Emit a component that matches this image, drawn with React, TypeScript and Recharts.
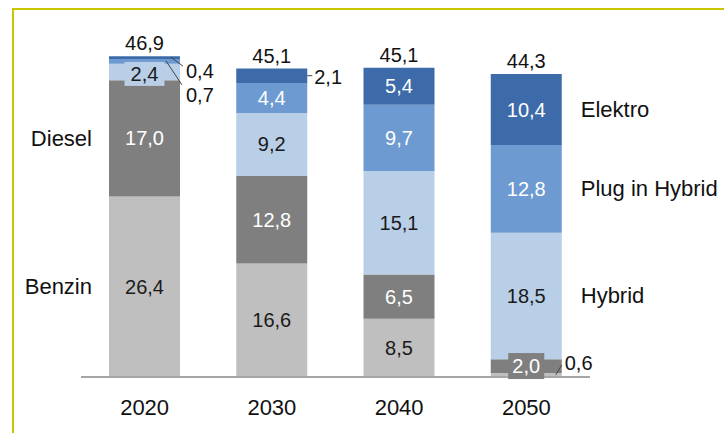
import React from "react";
import { BarChart, Bar, XAxis, YAxis, LabelList } from "recharts";

const years = ["2020", "2030", "2040", "2050"];
const benzin = [26.4, 16.6, 8.5, 0.6];
const diesel = [17.0, 12.8, 6.5, 2.0];
const hybrid = [2.4, 9.2, 15.1, 18.5];
const plugIn = [0.7, 4.4, 9.7, 12.8];
const elektro = [0.4, 2.1, 5.4, 10.4];
const totals = [46.9, 45.1, 45.1, 44.3];

const COLORS = {
  benzin: "#bfbfbf",
  diesel: "#7f7f7f",
  hybrid: "#b9cee7",
  plugIn: "#6c9ad1",
  elektro: "#3d6ba9",
};

const FONT = "'Liberation Sans', Arial, sans-serif";
const VAL = 20; // value label size
const NAME = 22; // series names and years
const fmt = (v: number) => v.toFixed(1).replace(".", ",");

const data = years.map((year, i) => ({
  year,
  benzin: benzin[i],
  diesel: diesel[i],
  hybrid: hybrid[i],
  plugIn: plugIn[i],
  elektro: elektro[i],
}));

type Opts = {
  color: string;
  fill: string;
  leftName?: string; // series name left of first bar
  rightName?: string; // series name right of last bar
  outside?: Record<number, "diag" | "diagLong" | "flat" | "up">;
  boxed?: Record<number, { w: number; h: number; dy: number }>;
};

function makeLabel(o: Opts) {
  return (props: any) => {
    const { x, y, width, height, value, index } = props;
    const cx = x + width / 2;
    const cy = y + height / 2;
    const txt = fmt(Number(value));
    const out = o.outside?.[index];
    const box = o.boxed?.[index];
    const parts: React.ReactNode[] = [];

    if (out) {
      const rx = x + width;
      if (out === "diag") {
        parts.push(<line key="l" x1={rx - 9} y1={y + 1} x2={rx + 3} y2={y + 10} stroke="#444" strokeWidth={1} />);
        parts.push(
          <text key="t" x={rx + 6} y={y + 15} fontSize={VAL} fill="#111" dominantBaseline="central">{txt}</text>
        );
      } else if (out === "diagLong") {
        parts.push(<line key="l" x1={rx - 14} y1={y + 2} x2={rx + 2} y2={y + 26} stroke="#444" strokeWidth={1} />);
        parts.push(
          <text key="t" x={rx + 6} y={y + 36} fontSize={VAL} fill="#111" dominantBaseline="central">{txt}</text>
        );
      } else if (out === "flat") {
        parts.push(<line key="l" x1={rx} y1={cy} x2={rx + 5} y2={cy} stroke="#444" strokeWidth={1} />);
        parts.push(
          <text key="t" x={rx + 7} y={cy + 1} fontSize={VAL} fill="#111" dominantBaseline="central">{txt}</text>
        );
      } else {
        parts.push(<line key="l" x1={rx - 6} y1={y + 2} x2={rx} y2={y - 8} stroke="#444" strokeWidth={1} />);
        parts.push(
          <text key="t" x={rx + 3} y={y - 10} fontSize={VAL} fill="#111" dominantBaseline="central">{txt}</text>
        );
      }
    } else {
      if (box) {
        parts.push(
          <rect key="b" x={cx - box.w / 2} y={cy + box.dy - box.h / 2} width={box.w} height={box.h} fill={o.fill} />
        );
      }
      parts.push(
        <text key="t" x={cx} y={cy + (box ? box.dy : 0)} fontSize={VAL} fill={o.color} textAnchor="middle" dominantBaseline="central">
          {txt}
        </text>
      );
    }

    if (o.leftName && index === 0) {
      parts.push(
        <text key="n" x={x - 17} y={cy} fontSize={NAME} fill="#111" textAnchor="end" dominantBaseline="central">
          {o.leftName}
        </text>
      );
    }
    if (o.rightName && index === years.length - 1) {
      parts.push(
        <text key="n" x={x + width + 19} y={cy} fontSize={NAME} fill="#111" dominantBaseline="central">
          {o.rightName}
        </text>
      );
    }
    return <g>{parts}</g>;
  };
}

const totalLabel = (props: any) => {
  const { x, y, width, index } = props;
  return (
    <text x={x + width / 2} y={y - 13} fontSize={VAL} fill="#111" textAnchor="middle" dominantBaseline="central">
      {fmt(totals[index])}
    </text>
  );
};

export default function App() {
  return (
    <div style={{ position: "absolute", left: 0, top: 0, width: 724, height: 433, background: "#fff", fontFamily: FONT }}>
      <div
        style={{
          position: "absolute",
          left: 12,
          top: 8,
          right: 0,
          bottom: 0,
          borderTop: "2px solid #c9c400",
          borderLeft: "2px solid #c9c400",
        }}
      />
      <BarChart
        width={724}
        height={433}
        data={data}
        margin={{ top: 35, right: 134, left: 81, bottom: 26 }}
        style={{ position: "absolute", left: 0, top: 0 }}
      >
        <XAxis
          dataKey="year"
          tickLine={false}
          axisLine={{ stroke: "#a6a6a6", strokeWidth: 2 }}
          tick={{ fill: "#111", fontSize: NAME, fontFamily: FONT }}
          tickMargin={16}
          height={30}
        />
        <YAxis hide domain={[0, 50]} />
        <Bar dataKey="benzin" stackId="a" fill={COLORS.benzin} barSize={71} isAnimationActive={false}>
          <LabelList
            dataKey="benzin"
            content={makeLabel({ color: "#1a1a1a", fill: COLORS.benzin, leftName: "Benzin", outside: { 3: "up" } })}
          />
        </Bar>
        <Bar dataKey="diesel" stackId="a" fill={COLORS.diesel} barSize={71} isAnimationActive={false}>
          <LabelList
            dataKey="diesel"
            content={makeLabel({
              color: "#fff",
              fill: COLORS.diesel,
              leftName: "Diesel",
              boxed: { 3: { w: 36, h: 26, dy: 0 } },
            })}
          />
        </Bar>
        <Bar dataKey="hybrid" stackId="a" fill={COLORS.hybrid} barSize={71} isAnimationActive={false}>
          <LabelList
            dataKey="hybrid"
            content={makeLabel({
              color: "#1a1a1a",
              fill: COLORS.hybrid,
              rightName: "Hybrid",
              boxed: { 0: { w: 40, h: 24, dy: 2 } },
            })}
          />
        </Bar>
        <Bar dataKey="plugIn" stackId="a" fill={COLORS.plugIn} barSize={71} isAnimationActive={false}>
          <LabelList
            dataKey="plugIn"
            content={makeLabel({ color: "#fff", fill: COLORS.plugIn, rightName: "Plug in Hybrid", outside: { 0: "diagLong" } })}
          />
        </Bar>
        <Bar dataKey="elektro" stackId="a" fill={COLORS.elektro} barSize={71} isAnimationActive={false}>
          <LabelList
            dataKey="elektro"
            content={makeLabel({ color: "#fff", fill: COLORS.elektro, rightName: "Elektro", outside: { 0: "diag", 1: "flat" } })}
          />
          <LabelList dataKey="elektro" content={totalLabel} />
        </Bar>
      </BarChart>
    </div>
  );
}
